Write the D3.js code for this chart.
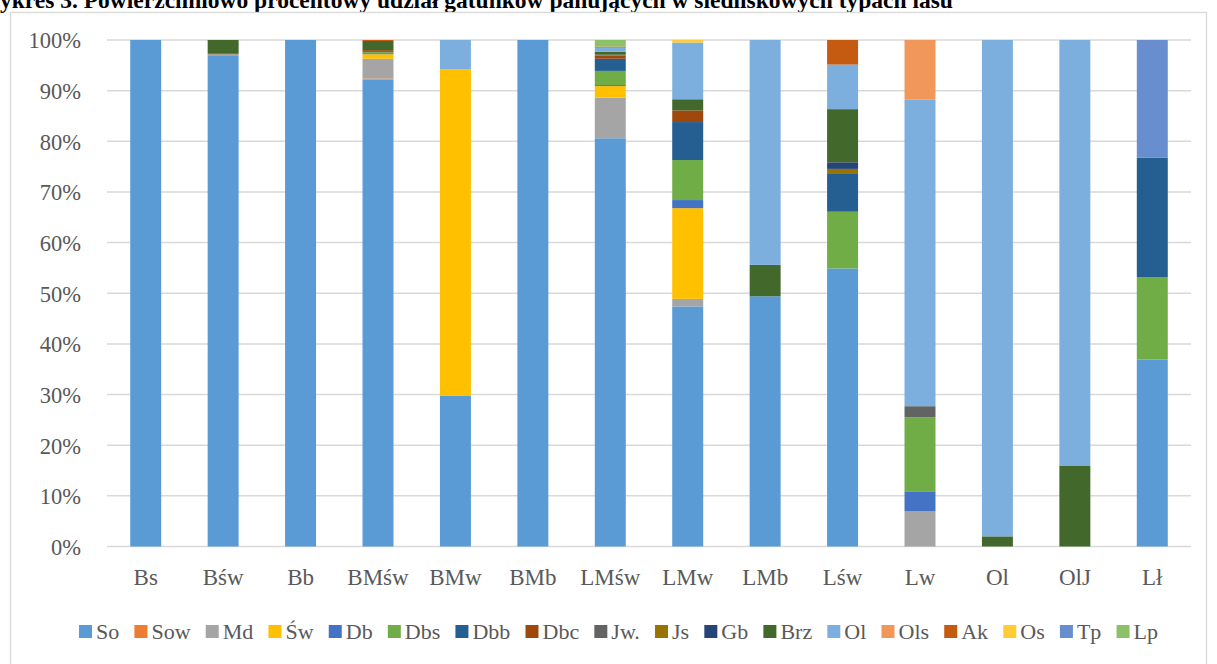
<!DOCTYPE html>
<html>
<head>
<meta charset="utf-8">
<script src="https://cdn.jsdelivr.net/npm/d3@7"></script>
<style>
  body { margin: 0; background: #fff; }
  svg { display: block; }
  text { font-family: "Liberation Serif", "Times New Roman", serif; }
</style>
</head>
<body>
<div id="main"></div>
<script>
var W = 1217, H = 664;
var margin = { top: 40, right: 26, bottom: 117.5, left: 107 },
  width = W - margin.left - margin.right,
  height = H - margin.top - margin.bottom;

// siedliskowe typy lasu
var categories = ["Bs", "Bśw", "Bb", "BMśw", "BMw", "BMb", "LMśw", "LMw", "LMb", "Lśw", "Lw", "Ol", "OlJ", "Lł"];

// udział gatunków [%] w kolejności categories
var So  = [100, 97.0, 100, 92.2, 29.8, 100, 80.6, 47.4, 49.4, 54.9, 0, 0, 0, 36.9];
var Sow = [0, 0, 0, 0.2, 0, 0, 0, 0, 0, 0, 0, 0, 0, 0];
var Md  = [0, 0.2, 0, 3.9, 0, 0, 8.0, 1.5, 0, 0, 7.0, 0, 0, 0];
var Sw  = [0, 0, 0, 0.9, 64.4, 0, 2.3, 17.9, 0, 0, 0, 0, 0, 0];
var Db  = [0, 0, 0, 0.2, 0, 0, 0.2, 1.6, 0, 0, 3.9, 0, 0, 0];
var Dbs = [0, 0, 0, 0.2, 0, 0, 2.8, 7.9, 0, 11.2, 14.6, 0, 0, 16.3];
var Dbb = [0, 0, 0, 0.2, 0, 0, 2.4, 7.5, 0, 7.6, 0, 0, 0, 23.6];
var Dbc = [0, 0.2, 0, 0.2, 0, 0, 0.6, 2.3, 0, 0, 0, 0, 0, 0];
var Jw  = [0, 0, 0, 0, 0, 0, 0.1, 0, 0, 0, 2.2, 0, 0, 0];
var Js  = [0, 0, 0, 0, 0, 0, 0, 0, 0, 0.85, 0, 0, 0, 0];
var Gb  = [0, 0, 0, 0, 0, 0, 0.1, 0, 0, 1.3, 0, 0, 0, 0];
var Brz = [0, 2.6, 0, 1.8, 0, 0, 0.6, 2.2, 6.2, 10.5, 0, 2.0, 16.0, 0];
var Ol  = [0, 0, 0, 0, 5.8, 0, 0.8, 11.2, 44.4, 8.8, 60.5, 98.0, 84.0, 0];
var Ols = [0, 0, 0, 0, 0, 0, 0, 0, 0, 0, 11.8, 0, 0, 0];
var Ak  = [0, 0, 0, 0.2, 0, 0, 0.2, 0, 0, 4.85, 0, 0, 0, 0];
var Os  = [0, 0, 0, 0, 0, 0, 0, 0.5, 0, 0, 0, 0, 0, 0];
var Tp  = [0, 0, 0, 0, 0, 0, 0, 0, 0, 0, 0, 0, 0, 23.2];
var Lp  = [0, 0, 0, 0, 0, 0, 1.3, 0, 0, 0, 0, 0, 0, 0];

var seriesNames = ["So", "Sow", "Md", "Św", "Db", "Dbs", "Dbb", "Dbc", "Jw.", "Js", "Gb", "Brz", "Ol", "Ols", "Ak", "Os", "Tp", "Lp"];
var seriesValues = [So, Sow, Md, Sw, Db, Dbs, Dbb, Dbc, Jw, Js, Gb, Brz, Ol, Ols, Ak, Os, Tp, Lp];
var yTicks = [0, 10, 20, 30, 40, 50, 60, 70, 80, 90, 100];

var colors = ["#5b9bd5", "#ed7d31", "#a5a5a5", "#ffc000", "#4472c4", "#70ad47", "#255e91", "#9e480e",
  "#636363", "#997300", "#264478", "#43682b", "#7cafdd", "#f1975a", "#c55a11", "#ffcd33", "#698ed0", "#8cc168"];

var textColor = "#595959";
var gridColor = "#d9d9d9";

// tabela dla d3.stack
var table = categories.map(function (c, i) {
  var row = { cat: c };
  seriesNames.forEach(function (s, k) { row[s] = seriesValues[k][i]; });
  return row;
});

var color = d3.scaleOrdinal().domain(seriesNames).range(colors);

var root = d3.select('#main')
  .append("svg")
  .attr('width', W)
  .attr('height', H);

// tytul (uciety u gory, jak w oryginale)
var title = root.append("text")
  .attr("y", 8)
  .style("font-weight", "bold")
  .style("font-size", "23.5px")
  .style("fill", "#000")
  .text("Wykres 3. Powierzchniowo procentowy udział gatunków panujących w siedliskowych typach lasu");

// obramowanie wykresu
root.append("rect")
  .attr("x", 10.5)
  .attr("y", 12.5)
  .attr("width", 1196)
  .attr("height", 670)
  .attr("fill", "none")
  .attr("stroke", gridColor)
  .attr("stroke-width", 1.3);

var svg = root.append("g")
  .attr("transform", "translate(" + margin.left + "," + margin.top + ")");

var xScale = d3.scaleBand()
  .range([0, width])
  .paddingInner(0.6)
  .paddingOuter(0.3)
  .domain(categories);

var yScale = d3.scaleLinear()
  .range([height, 0])
  .domain([0, 100]);

// linie siatki
svg.append("g")
  .selectAll("line")
  .data(yTicks)
  .enter()
  .append("line")
  .attr("x1", 0)
  .attr("x2", width)
  .attr("y1", d => yScale(d))
  .attr("y2", d => yScale(d))
  .attr("stroke", gridColor)
  .attr("stroke-width", 1.5);

var stack = d3.stack().keys(seriesNames);
var stacked = stack(table);

svg.append("g")
  .selectAll("g")
  .data(stacked)
  .enter()
  .append("g")
  .attr("fill", d => color(d.key))
  .selectAll("rect")
  .data(d => d.filter(p => p[1] - p[0] > 0))
  .enter()
  .append("rect")
  .attr("x", d => xScale(d.data.cat))
  .attr("y", d => yScale(d[1]))
  .attr("width", xScale.bandwidth())
  .attr("height", d => yScale(d[0]) - yScale(d[1]));

// os Y
var yAxis = svg.append("g")
  .attr("transform", "translate(-26,0)")
  .call(d3.axisLeft(yScale).tickValues(yTicks).tickSize(0).tickFormat(d => d + "%"));
yAxis.select(".domain").remove();
yAxis.selectAll("text")
  .attr("x", 0)
  .attr("dy", "0.35em")
  .style("font-size", "22.5px")
  .style("font-family", "'Liberation Serif', serif")
  .style("fill", textColor);

// os X
var xAxis = svg.append("g")
  .attr("transform", "translate(0," + height + ")")
  .call(d3.axisBottom(xScale).tickSize(0));
xAxis.select(".domain").remove();
xAxis.selectAll("text")
  .attr("y", 38.5)
  .attr("dy", 0)
  .style("font-size", "23px")
  .style("font-family", "'Liberation Serif', serif")
  .style("fill", textColor);

// legenda
var legend = root.append("g").attr("class", "legend");
var items = legend.selectAll(".legend-item")
  .data(seriesNames)
  .enter()
  .append("g")
  .attr("class", "legend-item");

items.append("rect")
  .attr("width", 13)
  .attr("height", 13)
  .attr("y", 625)
  .attr("fill", color);

items.append("text")
  .attr("x", 17)
  .attr("y", 639)
  .style("font-size", "22px")
  .style("fill", textColor)
  .text(d => d);

var widths = [];
items.select("text").each(function () { widths.push(17 + this.getComputedTextLength()); });
var legendLeft = 79, legendRight = 1158;
var gap = (legendRight - legendLeft - d3.sum(widths)) / (widths.length - 1);
var pos = legendLeft;
items.attr("transform", function (d, i) {
  var t = "translate(" + pos + ",0)";
  pos += widths[i] + gap;
  return t;
});

// przesuniecie tytulu, aby "W" bylo uciete z lewej
var wWidth = title.node().getSubStringLength(0, 1);
title.attr("x", -wWidth);
</script>
</body>
</html>
